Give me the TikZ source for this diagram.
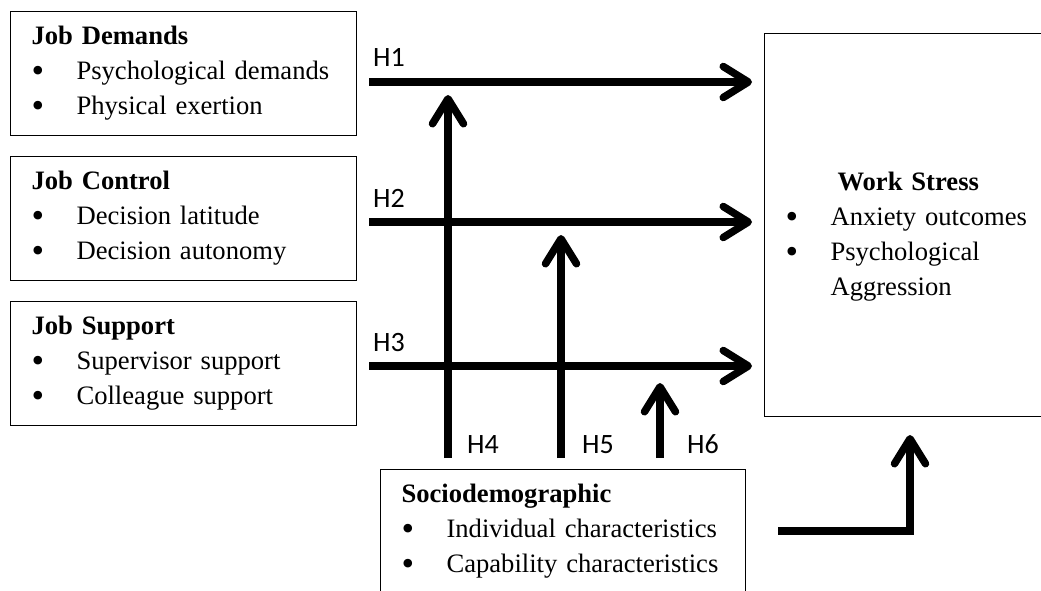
\documentclass[tikz,border=0pt]{standalone}
\usepackage{fontspec}
\usepackage{graphicx}
\setmainfont{Liberation Serif}
\newfontfamily\hfont{Carlito}
\usetikzlibrary{arrows.meta}

% bullet item of a box
\newcommand{\bul}[1]{\mbox{\makebox[45pt][l]{\raisebox{-2.5pt}{\scalebox{1.35}{\textbullet}}}#1}}

\begin{document}
\begin{tikzpicture}[x=1pt, y=-1pt,
        box/.style={
            % The shape:
            rectangle,
            anchor=north west,
            % The size:
            minimum height=124pt,
            inner xsep=21pt,
            inner ysep=0pt,
            % The border
            line width=1.1pt,
            draw=black,
            % Font
            align=left,
            font=\fontsize{26.6}{35}\selectfont
        },
        link/.style={
            line width=7.5pt,
            -{Straight Barb[length=25pt, width=31pt, round]}
        },
        hlab/.style={
            anchor=base west,
            inner sep=0pt,
            font=\hfont\fontsize{28}{28}\selectfont
        }]

        \useasboundingbox (0,0) rectangle (1041,591);

        \foreach \name/\ytop/\yarr/\lab/\title/\itemA/\itemB in {
            dem/11/82/H1/Job Demands/Psychological demands/Physical exertion,
            ctl/156/222/H2/Job Control/Decision latitude/Decision autonomy,
            sup/301/366/H3/Job Support/Supervisor support/Colleague support}
        {
            \node [box, text width=304pt] (\name) at (10,\ytop)
                {\textbf{\title}\\ \bul{\itemA}\\ \bul{\itemB}};
            \coordinate (\lab start) at (369,\yarr);
            \coordinate (\lab end) at (752,\yarr);
            \draw [link] (\lab start) -- (\lab end);
            \node [hlab] (\lab) at ([xshift=4pt, yshift=15pt]\lab start) {\lab};
        }

        \node [box, text width=242pt, minimum height=383pt] (stress) at (764,33)
            {\rule{0pt}{42pt}\hspace*{52pt}\textbf{Work Stress}\\ \bul{Anxiety outcomes}\\
             \bul{Psychological}\\ \hspace*{45pt}Aggression};

        \node [box, text width=323pt] (soc) at (380,469)
            {\textbf{Sociodemographic}\\ \bul{Individual characteristics}\\
             \bul{Capability characteristics}};

        % moderators
        \foreach \x/\ytip/\lab/\dx in {448/95/H4/19pt, 561/235/H5/21pt, 660/383/H6/27pt}
        {
            \coordinate (\lab start) at (\x,458);
            \coordinate (\lab end) at (\x,\ytip);
            \draw [link] (\lab start) -- (\lab end);
            \node [hlab] (\lab) at ([xshift=\dx, yshift=5pt]\lab start) {\lab};
        }

        \coordinate (soc link) at (778,531);
        \coordinate (stress in) at (910,435);
        \draw [link, line join=miter] (soc link) -| (stress in);

    \end{tikzpicture}
\end{document}
